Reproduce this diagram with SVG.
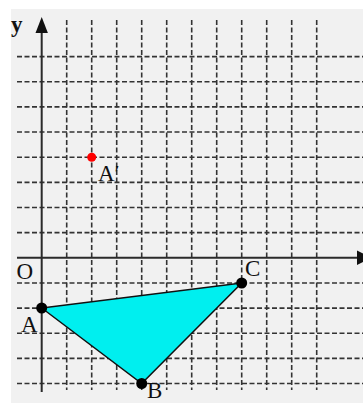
<svg xmlns="http://www.w3.org/2000/svg" width="363" height="403" viewBox="0 0 363 403">
<style>
.g{stroke:#333;stroke-width:1.6;stroke-dasharray:5 2.5;fill:none}
.ax{stroke:#2a2a2a;stroke-width:2;fill:none}
.t{font-family:"Liberation Serif","Times New Roman",serif;font-size:23px;fill:#111}
</style>
<rect x="0" y="0" width="363" height="403" fill="#ffffff"/>
<rect x="11" y="9" width="352" height="394" fill="#f1f1f1"/>
<g id="grid">
<path class="g" d="M66.7 20V390M91.7 20V390M116.7 20V390M141.7 20V390M166.7 20V390M191.7 20V390M216.7 20V390M241.7 20V390M266.7 20V390M291.7 20V390M316.7 20V390"/>
<path class="g" d="M17 56.6H363M17 81.75H363M17 106.9H363M17 132.05H363M17 157.2H363M17 182.35H363M17 207.5H363M17 232.65H363M17 282.95H363M17 308.1H363M17 333.25H363M17 358.4H363M17 383.55H363"/>
</g>
<g id="axes">
<path class="ax" d="M41.7 30V392"/>
<polygon points="41.7,17 35.5,33 47.9,33" fill="#111"/>
<path class="ax" d="M17 257.8H358"/>
<polygon points="357,250.5 372,257.8 357,265" fill="#111"/>
<text class="t" x="11" y="32" style="font-weight:bold;font-size:23px">y</text>
<text class="t" x="16.5" y="279">O</text>
</g>
<g id="triangle">
<polygon points="41.7,308 141.7,383.5 241.7,283" fill="#00efef" stroke="#111" stroke-width="1.5"/>
</g>
<g id="A">
<circle cx="41.7" cy="308" r="5.5" fill="#000"/>
<text class="t" x="21" y="332">A</text>
</g>
<g id="B">
<circle cx="141.7" cy="383.5" r="5.5" fill="#000"/>
<text class="t" x="147" y="397.5">B</text>
</g>
<g id="C">
<circle cx="241.7" cy="283" r="5.5" fill="#000"/>
<text class="t" x="245" y="276">C</text>
</g>
<g id="A-prime">
<circle cx="91.7" cy="157.2" r="4.5" fill="#ff0000"/>
<text class="t" x="98" y="181">A′</text>
</g>
</svg>
